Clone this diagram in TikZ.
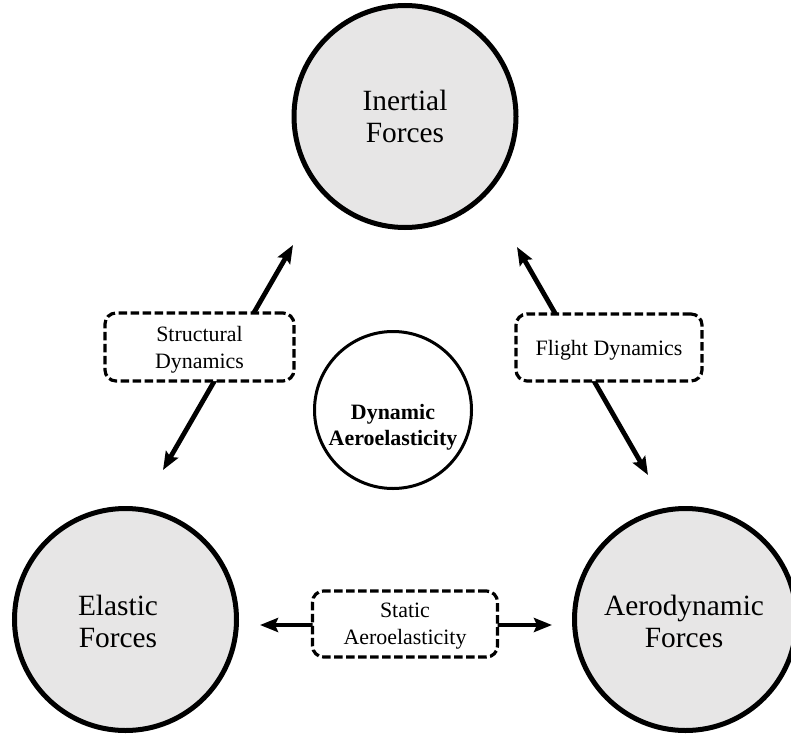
\documentclass[tikz,border=0pt]{standalone}
\usepackage{fontspec}
\setmainfont{Liberation Serif}
\usetikzlibrary{arrows.meta,backgrounds}
\definecolor{cfill}{RGB}{231,230,230}
\begin{document}
\begin{tikzpicture}[x=1bp,y=-1bp,
  big/.style={circle,draw=black,line width=5bp,fill=cfill,minimum size=222bp,inner sep=0pt},
  bigtext/.style={align=center,inner sep=0pt,font=\fontsize{29.5}{32}\selectfont},
  mid/.style={circle,draw=black,line width=3bp,fill=white,minimum size=157bp,inner sep=0pt},
  midtext/.style={align=center,inner sep=0pt,font=\fontsize{22}{26}\selectfont\bfseries},
  dbox/.style={draw=black,rectangle,rounded corners=11bp,dash pattern=on 8.5bp off 3.5bp,
    line width=3.2bp,fill=white,align=center,inner sep=0pt,text depth=0pt,
    font=\fontsize{22}{27}\selectfont},
  arr/.style={line width=4.8bp,{Stealth[length=18bp,width=14bp,inset=3bp]}-{Stealth[length=18bp,width=14bp,inset=3bp]}}]
\useasboundingbox (0,0) rectangle (791,736);

% big circles
\node[big] (inertial) at (405,116.5) {};
\node[bigtext] (inertialtext) at (405,116.5) {Inertial\\Forces};
\node[big] (elastic) at (125.5,619.5) {};
\node[bigtext] (elastictext) at (118,621) {Elastic\\Forces};
\node[big] (aero) at (685.5,619.5) {};
\node[bigtext] (aerotext) at (684,621) {Aerodynamic\\Forces};

% middle circle
\node[mid] (dyn) at (393,410) {};
\node[midtext] (dyntext) at (393,427) {Dynamic\\Aeroelasticity};

% arrow end points
\coordinate (sdA) at (293,245);
\coordinate (sdB) at (163,470);
\coordinate (fdA) at (517,247);
\coordinate (fdB) at (648,475);
\coordinate (saA) at (260,625);
\coordinate (saB) at (552,625);

% boxes
\node[dbox,minimum width=189bp,minimum height=68bp] (sd) at (199.5,347) {Structural\\Dynamics};
\node[dbox,minimum width=186bp,minimum height=67bp] (fd) at (609,347.5) {Flight Dynamics};
\node[dbox,minimum width=185bp,minimum height=66bp] (sa) at (405,624) {Static\\Aeroelasticity};

% connectors (behind the boxes)
\begin{scope}[on background layer]
  \draw[arr] (sdB) -- (sdA);
  \draw[arr] (fdB) -- (fdA);
  \draw[arr] (saA) -- (saB);
\end{scope}
\end{tikzpicture}
\end{document}
